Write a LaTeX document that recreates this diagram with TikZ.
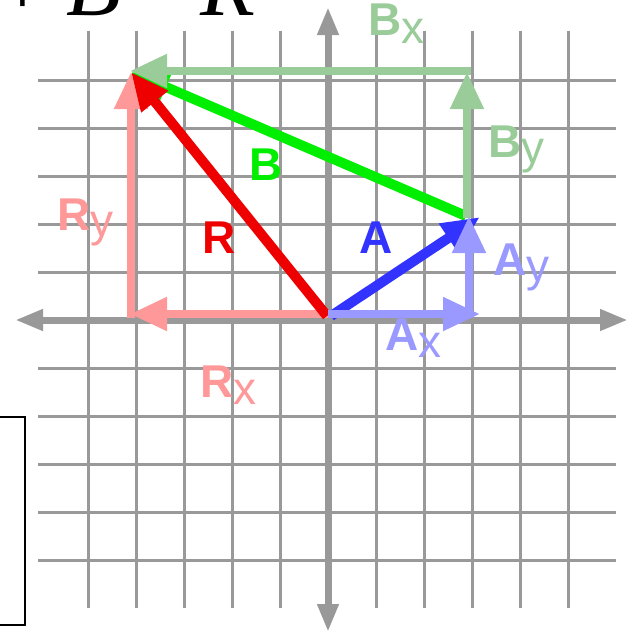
\documentclass[tikz,border=0pt]{standalone}
\usepackage{fontspec}
\setmainfont{Liberation Sans}
\newfontfamily\titlefont{Liberation Serif}
\usetikzlibrary{arrows.meta}
\definecolor{gridgray}{HTML}{999999}
\definecolor{rred}{HTML}{EE0000}
\definecolor{bgreen}{HTML}{00EE00}
\definecolor{ablue}{HTML}{3333FF}
\definecolor{rpink}{HTML}{FF9999}
\definecolor{bpale}{HTML}{99CC99}
\definecolor{apale}{HTML}{9999FF}
\begin{document}
\begin{tikzpicture}[x=1pt,y=-1pt,
  gridline/.style={draw=gridgray,line width=3pt},
  axisline/.style={draw=gridgray,line width=7pt,{Triangle[length=28pt,width=20pt]}-{Triangle[length=28pt,width=20pt]}},
  vecline/.style={line width=10pt,-{Triangle[length=38pt,width=32pt]}},
  compline/.style={line width=8pt,-{Triangle[length=37pt,width=32pt]}},
  lbl/.style={inner sep=0pt,font=\fontsize{46}{46}\selectfont\bfseries},
  titleglyph/.style={inner sep=0pt,anchor=base west,font=\fontsize{90}{90}\selectfont\titlefont}]
\useasboundingbox (0,0) rectangle (628,633);
\clip (0,0) rectangle (628,633);
% title (cut off at the top)
\node[titleglyph] (tplus) at (-3,15) {+};
\node[titleglyph] (tB) at (66,15) {\itshape B};
\node[titleglyph] (teq) at (140,15) {=};
\node[titleglyph] (tR) at (200,15) {\itshape R};
% box at left
\draw[line width=1.5pt] (-10,417) rectangle (25,625);
% grid
\foreach \gx in {88,136,184,232,280,376,424,472,520,568}
  \draw[gridline] (\gx,31) -- (\gx,608);
\foreach \gy in {80,128,176,224,272,368,416,464,512,560}
  \draw[gridline] (38,\gy) -- (616,\gy);
% axes
\coordinate (xl) at (15,320);
\coordinate (xr) at (628,320);
\coordinate (yt) at (328,7);
\coordinate (yb) at (328,632);
\draw[axisline] (xl) -- (xr);
\draw[axisline] (yt) -- (yb);
% coordinates
\coordinate (oR) at (327,316);
\coordinate (tipR) at (131,72);
\coordinate (oRx) at (328,314);
\coordinate (tRx) at (130,314);
\coordinate (oRy) at (131,318);
\coordinate (tRy) at (131,72);
\coordinate (oB) at (466,216);
\coordinate (tipB) at (131,72);
\coordinate (oBx) at (471,71);
\coordinate (tBx) at (130,71);
\coordinate (oBy) at (467,218);
\coordinate (tBy) at (467,72);
\coordinate (oA) at (331,316);
\coordinate (tipA) at (480,217);
\coordinate (oAx) at (328,314);
\coordinate (tAx) at (480,314);
\coordinate (oAy) at (469,318);
\coordinate (tAy) at (469,216);
% component vectors
\draw[compline,rpink] (oRx) -- (tRx);
\draw[compline,rpink] (oRy) -- (tRy);
% main vectors
\draw[vecline,bgreen] (oB) -- (tipB);
\draw[vecline,rred] (oR) -- (tipR);
\draw[vecline,ablue] (oA) -- (tipA);
\draw[compline,bpale] (oBx) -- (tBx);
\draw[compline,bpale] (oBy) -- (tBy);
\draw[compline,apale] (oAx) -- (tAx);
\draw[compline,apale] (oAy) -- (tAy);
% labels
\node[lbl,text=rred,anchor=base] (lR) at (219,253) {R};
\node[lbl,text=bgreen,anchor=base] (lB) at (266,180) {B};
\node[lbl,text=ablue,anchor=base] (lA) at (376,253) {A};
\node[lbl,text=rpink,anchor=base west] (lRy) at (57,230) {R\raisebox{-6pt}{\mdseries y}};
\node[lbl,text=rpink,anchor=base west] (lRx) at (200.5,397) {R\raisebox{-7pt}{\mdseries x}};
\node[lbl,text=bpale,anchor=base west] (lBx) at (368.5,35) {B\raisebox{-8pt}{\mdseries x}};
\node[lbl,text=bpale,anchor=base west] (lBy) at (488.5,157) {B\raisebox{-6pt}{\mdseries y}};
\node[lbl,text=apale,anchor=base west] (lAx) at (385,350) {A\raisebox{-7pt}{\mdseries x}};
\node[lbl,text=apale,anchor=base west] (lAy) at (493,275) {A\raisebox{-6pt}{\mdseries y}};
\end{tikzpicture}
\end{document}
